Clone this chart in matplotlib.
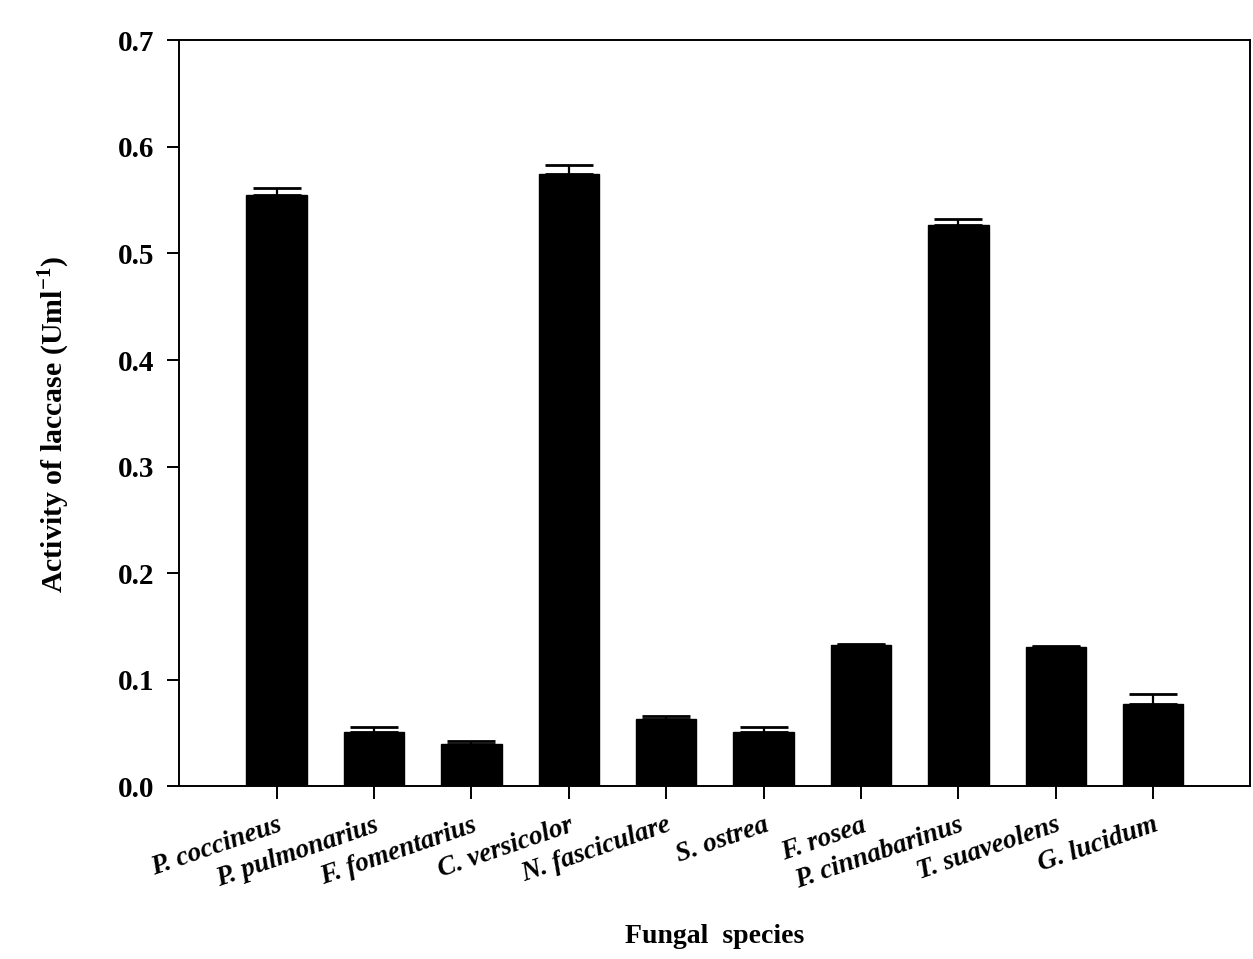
import numpy as np
import matplotlib
matplotlib.use("Agg")
import matplotlib.pyplot as plt


# laccase activity per fungal species
species = ["P. coccineus", "P. pulmonarius", "F. fomentarius", "C. versicolor",
           "N. fasciculare", "S. ostrea", "F. rosea", "P. cinnabarinus",
           "T. suaveolens", "G. lucidum"]
activity = [0.555, 0.051, 0.040, 0.575, 0.063, 0.051, 0.133, 0.527, 0.131, 0.077]
errors = [0.006, 0.005, 0.003, 0.008, 0.003, 0.005, 0.001, 0.005, 0.001, 0.010]
yticks = [0.0, 0.1, 0.2, 0.3, 0.4, 0.5, 0.6, 0.7]


def main():
    plt.rcParams['font.family'] = ['Liberation Serif', 'DejaVu Serif']
    plt.rcParams['mathtext.fontset'] = 'custom'
    plt.rcParams['mathtext.rm'] = 'Liberation Serif:bold'
    plt.rcParams['mathtext.bf'] = 'Liberation Serif:bold'

    fig = plt.figure(figsize=(12.53, 9.59), dpi=100)
    ax = fig.add_axes([0.143, 0.18, 0.855, 0.778])

    x = np.arange(len(species))
    lower = np.zeros(len(errors))
    ax.bar(x, activity, width=0.62, color='black', edgecolor='black',
           yerr=[lower, errors], capsize=17,
           error_kw=dict(ecolor='black', elinewidth=1.6, capthick=2))

    ax.set_xlim(-1, 10)
    ax.set_ylim(0, 0.7)
    ax.set_yticks(yticks)
    ax.set_yticklabels([f"{v:.1f}" for v in yticks], fontsize=21, fontweight='bold')
    ax.set_xticks(x)
    ax.set_xticklabels(species, rotation=19, ha='right', rotation_mode='anchor',
                       fontsize=19.5, fontweight='bold', fontstyle='italic')

    ax.tick_params(axis='both', direction='out', length=9, width=1.4, color='black')
    ax.tick_params(axis='x', pad=10)
    ax.tick_params(axis='y', pad=9)
    for s in ax.spines.values():
        s.set_linewidth(1.4)

    ax.set_ylabel(r"Activity of laccase (Uml$^{\mathbf{-1}}$)", fontsize=21.5,
                  fontweight='bold')
    ax.yaxis.set_label_coords(-0.1, 0.485)
    ax.set_xlabel("Fungal  species", fontsize=20, fontweight='bold')
    ax.xaxis.set_label_coords(0.5, -0.185)

    fig.savefig("out.png", dpi=100)


if __name__ == "__main__":
    main()
